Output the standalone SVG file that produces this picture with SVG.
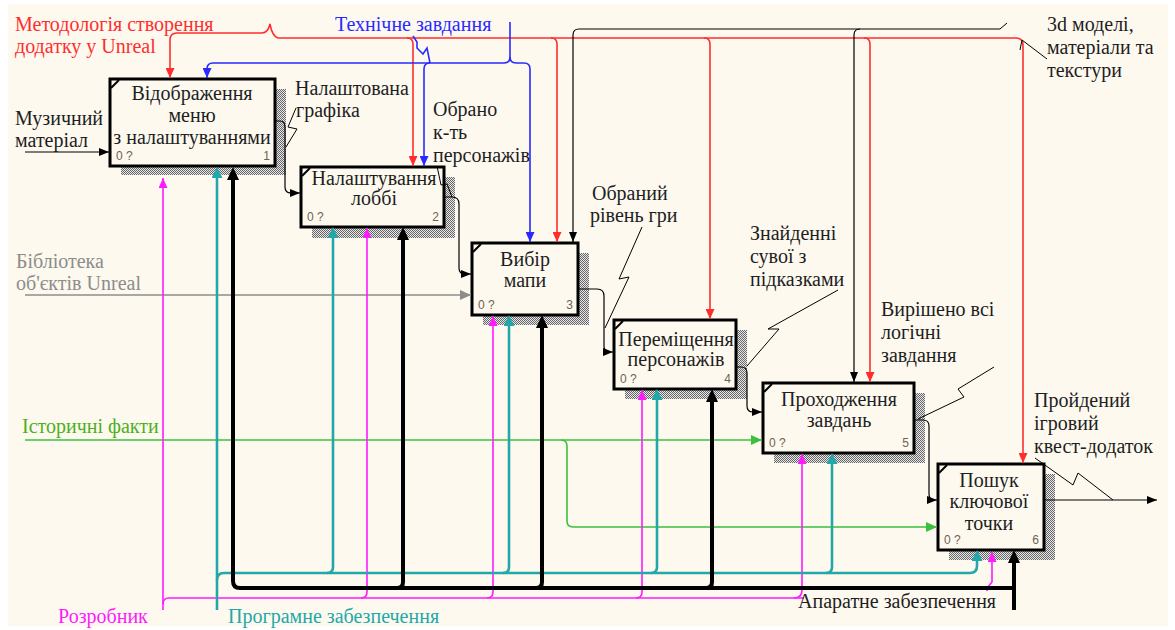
<svg xmlns="http://www.w3.org/2000/svg" width="1175" height="630" viewBox="0 0 1175 630">
<style>
text{font-family:"Liberation Serif","Times New Roman",serif;font-size:20px}
.bt{fill:#1e1e1e;text-anchor:middle}
.lb{fill:#1e1e1e}
.sm{font-family:"Liberation Sans",Arial,sans-serif;font-size:12px;fill:#6e6253}
.box{fill:#fdf9ef;stroke:#000;stroke-width:3}
.sh{fill:url(#hatch)}
.cr{fill:none;stroke:#000;stroke-width:2}
.k{fill:none;stroke:#000;stroke-width:1.2}
.kk{fill:none;stroke:#000;stroke-width:4}
.r{fill:none;stroke:#ff2e2e;stroke-width:1.6}
.b{fill:none;stroke:#2a2aff;stroke-width:1.6}
.g{fill:none;stroke:#3cc03c;stroke-width:1.6}
.gr{fill:none;stroke:#8c8c8c;stroke-width:1.6}
.m{fill:none;stroke:#ff1aff;stroke-width:1.6}
.t{fill:none;stroke:#22a8a8;stroke-width:2.6}
.z{fill:none;stroke:#000;stroke-width:1}
</style>
<defs>
<pattern id="hatch" width="2" height="2" patternUnits="userSpaceOnUse">
<rect width="2" height="2" fill="#e8e8e8"/><rect width="1" height="1" fill="#666"/><rect x="1" y="1" width="1" height="1" fill="#666"/>
</pattern>
<marker id="ak" markerUnits="userSpaceOnUse" markerWidth="10" markerHeight="8" viewBox="0 0 10 8" refX="10" refY="4" orient="auto"><path d="M0,0 L10,4 L0,8 z" fill="#000"/></marker>
<marker id="akk" markerUnits="userSpaceOnUse" markerWidth="13" markerHeight="12" viewBox="0 0 13 12" refX="1" refY="6" orient="auto"><path d="M0,0 L13,6 L0,12 z" fill="#000"/></marker>
<marker id="ar" markerUnits="userSpaceOnUse" markerWidth="10" markerHeight="9" viewBox="0 0 10 9" refX="10" refY="4.5" orient="auto"><path d="M0,0 L10,4.5 L0,9 z" fill="#ff2e2e"/></marker>
<marker id="ab" markerUnits="userSpaceOnUse" markerWidth="10" markerHeight="9" viewBox="0 0 10 9" refX="10" refY="4.5" orient="auto"><path d="M0,0 L10,4.5 L0,9 z" fill="#2a2aff"/></marker>
<marker id="ag" markerUnits="userSpaceOnUse" markerWidth="11" markerHeight="10" viewBox="0 0 11 10" refX="11" refY="5" orient="auto"><path d="M0,0 L11,5 L0,10 z" fill="#3cc03c"/></marker>
<marker id="agr" markerUnits="userSpaceOnUse" markerWidth="11" markerHeight="10" viewBox="0 0 11 10" refX="11" refY="5" orient="auto"><path d="M0,0 L11,5 L0,10 z" fill="#8c8c8c"/></marker>
<marker id="am" markerUnits="userSpaceOnUse" markerWidth="10" markerHeight="9" viewBox="0 0 10 9" refX="10" refY="4.5" orient="auto"><path d="M0,0 L10,4.5 L0,9 z" fill="#ff1aff"/></marker>
<marker id="at" markerUnits="userSpaceOnUse" markerWidth="11" markerHeight="11" viewBox="0 0 11 11" refX="1" refY="5.5" orient="auto"><path d="M0,0 L11,5.5 L0,11 z" fill="#22a8a8"/></marker>
</defs>
<rect x="0" y="0" width="1175" height="630" fill="#ffffff"/>
<rect x="8" y="4" width="1160" height="622" fill="#fdf9ef"/>

<g id="node1">
<rect class="sh" x="121" y="89" width="165" height="86"/>
<rect class="box" x="110" y="79" width="165" height="87"/>
<path class="cr" d="M111,88 L119,80"/>
<text class="bt" x="192" y="100">Відображення</text>
<text class="bt" x="192" y="122">меню</text>
<text class="bt" x="192" y="144">з налаштуваннями</text>
<text class="sm" x="116" y="160">0 ?</text>
<text class="sm" x="270" y="160" text-anchor="end">1</text>
</g>
<g id="node2">
<rect class="sh" x="312" y="177" width="143" height="61"/>
<rect class="box" x="301" y="167" width="143" height="60"/>
<path class="cr" d="M302,176 L310,168"/>
<text class="bt" x="374" y="185">Налаштування</text>
<text class="bt" x="374" y="205">лоббі</text>
<text class="sm" x="307" y="221">0 ?</text>
<text class="sm" x="439" y="221" text-anchor="end">2</text>
</g>
<g id="node3">
<rect class="sh" x="483" y="253" width="106" height="72"/>
<rect class="box" x="472" y="243" width="106" height="72"/>
<path class="cr" d="M473,252 L481,244"/>
<text class="bt" x="525" y="266">Вибір</text>
<text class="bt" x="525" y="287">мапи</text>
<text class="sm" x="478" y="309">0 ?</text>
<text class="sm" x="573" y="309" text-anchor="end">3</text>
</g>
<g id="node4">
<rect class="sh" x="625" y="330" width="122" height="69"/>
<rect class="box" x="614" y="320" width="122" height="69"/>
<path class="cr" d="M615,329 L623,321"/>
<text class="bt" x="676" y="346">Переміщення</text>
<text class="bt" x="676" y="366">персонажів</text>
<text class="sm" x="620" y="383">0 ?</text>
<text class="sm" x="731" y="383" text-anchor="end">4</text>
</g>
<g id="node5">
<rect class="sh" x="774" y="393" width="151" height="70"/>
<rect class="box" x="763" y="383" width="151" height="70"/>
<path class="cr" d="M764,392 L772,384"/>
<text class="bt" x="839" y="406">Проходження</text>
<text class="bt" x="839" y="427">завдань</text>
<text class="sm" x="769" y="447">0 ?</text>
<text class="sm" x="909" y="447" text-anchor="end">5</text>
</g>
<g id="node6">
<rect class="sh" x="949" y="474" width="106" height="86"/>
<rect class="box" x="938" y="464" width="106" height="86"/>
<path class="cr" d="M939,473 L947,465"/>
<text class="bt" x="989" y="487">Пошук</text>
<text class="bt" x="989" y="508">ключової</text>
<text class="bt" x="989" y="530">точки</text>
<text class="sm" x="944" y="544">0 ?</text>
<text class="sm" x="1039" y="544" text-anchor="end">6</text>
</g>

<g id="connectors">
<path class="k" d="M25,152 H109" marker-end="url(#ak)"/>
<path class="k" d="M275,121 H280 Q285,121 285,127 V187 Q285,193 291,193 H300" marker-end="url(#ak)"/>
<path class="k" d="M444,197 H452 Q459,197 459,204 V268 Q459,274 465,274 H471" marker-end="url(#ak)"/>
<path class="k" d="M578,289 H597 Q604,289 604,296 V346 Q604,352 609,352 H613" marker-end="url(#ak)"/>
<path class="k" d="M736,367 H741 Q747,367 747,373 V406 Q747,412 753,412 H762" marker-end="url(#ak)"/>
<path class="k" d="M914,420 H923 Q929,420 929,426 V494 Q929,500 934,500 H937" marker-end="url(#ak)"/>
<path class="k" d="M1044,500 H1157" marker-end="url(#ak)"/>
<path class="gr" d="M25,295 H471" marker-end="url(#agr)"/>
<path class="g" d="M25,440 H762" marker-end="url(#ag)"/>
<path class="g" d="M561,440 Q567,440 567,446 V521 Q567,527 573,527 H937" marker-end="url(#ag)"/>
<path class="r" d="M170,40 Q170,33 177,33 H262 Q268,33 270,24 Q272,36 278,38 H1016 Q1023,38 1023,45 V463" marker-end="url(#ar)"/>
<path class="r" d="M170,40 V78" marker-end="url(#ar)"/>
<path class="r" d="M407,38 Q413,38 413,44 V166" marker-end="url(#ar)"/>
<path class="r" d="M551,38 Q557,38 557,44 V242" marker-end="url(#ar)"/>
<path class="r" d="M704,38 Q710,38 710,44 V319" marker-end="url(#ar)"/>
<path class="r" d="M864,38 Q870,38 870,44 V382" marker-end="url(#ar)"/>
<path class="b" d="M510,22 V57 Q510,63 504,63 H213 Q207,63 207,69 V78" marker-end="url(#ab)"/>
<path class="b" d="M510,57 Q510,63 516,63 H524 Q530,63 530,69 V242" marker-end="url(#ab)"/>
<path class="b" d="M430,63 Q424,63 424,69 V166" marker-end="url(#ab)"/>
<path class="k" d="M1000,29 H579 Q573,29 573,35 V242" marker-end="url(#ak)"/>
<path class="k" d="M860,29 Q854,29 854,35 V382" marker-end="url(#ak)"/>
<path class="m" d="M163,610 V178" marker-end="url(#am)"/>
<path class="m" d="M163,604 Q163,598 169,598 H981 Q987,598 987,592 V588 L992,582 V552" marker-end="url(#am)"/>
<path class="m" d="M361,598 Q367,598 367,592 V228" marker-end="url(#am)"/>
<path class="m" d="M487,598 Q493,598 493,592 V316" marker-end="url(#am)"/>
<path class="m" d="M636,598 Q642,598 642,592 V390" marker-end="url(#am)"/>
<path class="m" d="M794,598 Q802,598 802,590 V454" marker-end="url(#am)"/>
<path class="t" d="M217,610 V177" marker-end="url(#at)"/>
<path class="t" d="M217,580 Q217,573 224,573 H970 Q977,573 977,566 V560" marker-end="url(#at)"/>
<path class="t" d="M327,573 Q333,573 333,567 V237" marker-end="url(#at)"/>
<path class="t" d="M503,573 Q509,573 509,567 V325" marker-end="url(#at)"/>
<path class="t" d="M651,573 Q657,573 657,567 V399" marker-end="url(#at)"/>
<path class="t" d="M826,573 Q832,573 832,567 V463" marker-end="url(#at)"/>
<path class="kk" d="M1014,610 V562" marker-end="url(#akk)"/>
<path class="kk" d="M1014,588 H240 Q233,588 233,581 V179" marker-end="url(#akk)"/>
<path class="kk" d="M397,588 Q403,588 403,582 V239" marker-end="url(#akk)"/>
<path class="kk" d="M536,588 Q542,588 542,582 V327" marker-end="url(#akk)"/>
<path class="kk" d="M706,588 Q712,588 712,582 V401" marker-end="url(#akk)"/>
<path class="z" d="M296,108 L288,127 L297,129 L286,147"/>
<path class="z" d="M437,166 L441,185 L447,184 L452,197"/>
<path class="b" d="M413,36 L417,42 L417,48 L423,54 L427,48 L430,63"/>
<path class="z" d="M642,227 L619,279 L629,277 L605,328"/>
<path class="z" d="M838,290 L768,329 L779,329 L747,366"/>
<path class="z" d="M994,367 L958,389 L964,397 L918,419"/>
<path class="z" d="M1035,458 L1073,485 L1078,473 L1113,500"/>
<path class="z" d="M1000,29 L1007,23"/>
<path class="z" d="M1047,59 L1022,40 L1020,50"/>
</g>

<g id="labels">
<text x="15" y="31" fill="#ff2e2e">Методологія створення</text>
<text x="15" y="53" fill="#ff2e2e">додатку у Unreal</text>
<text x="335" y="31" fill="#2a2aff">Технічне завдання</text>
<text class="lb" x="1047" y="31">3d моделі,</text>
<text class="lb" x="1047" y="54">матеріали та</text>
<text class="lb" x="1047" y="77">текстури</text>
<text class="lb" x="295" y="95">Налаштована</text>
<text class="lb" x="296" y="117">графіка</text>
<text class="lb" x="433" y="116">Обрано</text>
<text class="lb" x="433" y="139">к-ть</text>
<text class="lb" x="433" y="162">персонажів</text>
<text class="lb" x="592" y="200">Обраний</text>
<text class="lb" x="590" y="222">рівень гри</text>
<text class="lb" x="750" y="240">Знайденні</text>
<text class="lb" x="750" y="263">сувої з</text>
<text class="lb" x="750" y="286">підказками</text>
<text class="lb" x="881" y="316">Вирішено всі</text>
<text class="lb" x="881" y="339">логічні</text>
<text class="lb" x="881" y="362">завдання</text>
<text class="lb" x="1034" y="407">Пройдений</text>
<text class="lb" x="1034" y="430">ігровий</text>
<text class="lb" x="1034" y="453">квест-додаток</text>
<text class="lb" x="15" y="125">Музичний</text>
<text class="lb" x="15" y="147">матеріал</text>
<text x="16" y="268" fill="#8c8c8c">Бібліотека</text>
<text x="16" y="290" fill="#8c8c8c">об'єктів Unreal</text>
<text x="22" y="433" fill="#4cb020">Історичні факти</text>
<text x="58" y="623" fill="#ff1aff">Розробник</text>
<text x="228" y="623" fill="#22a8a8">Програмне забезпечення</text>
<rect x="804" y="591" width="200" height="21" fill="#fdf9ef"/>
<text class="lb" x="798" y="608">Апаратне забезпечення</text>
</g>
</svg>
